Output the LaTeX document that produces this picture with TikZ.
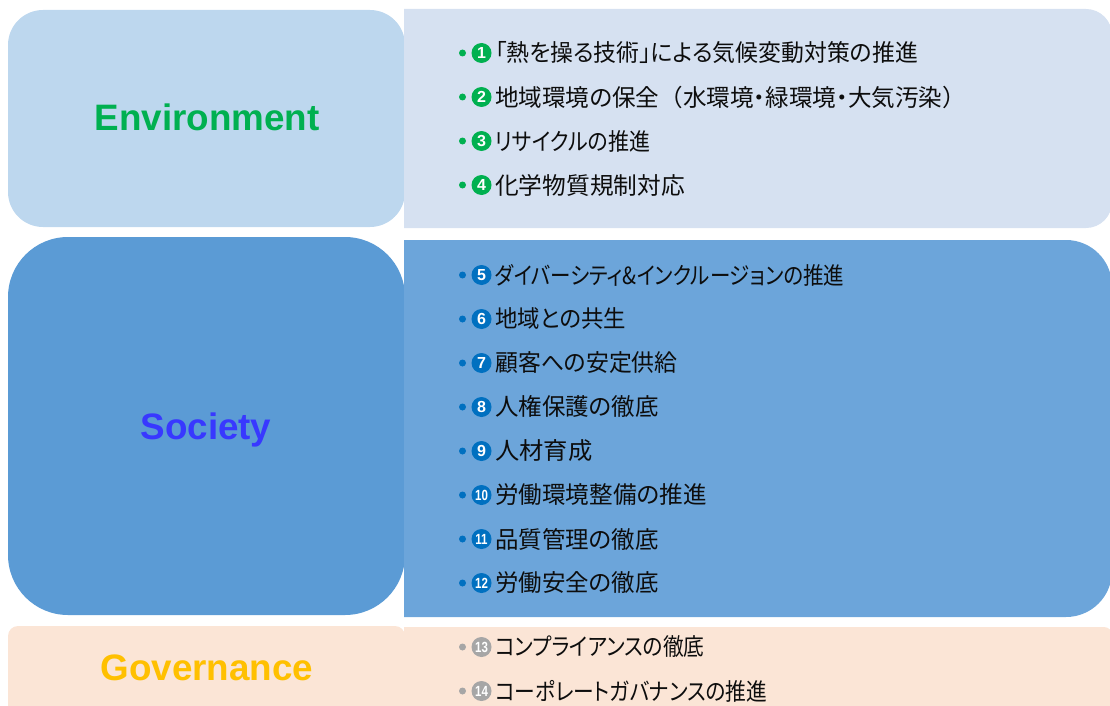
\documentclass[tikz,border=0pt]{standalone}
\usepackage{fontspec}
\newfontfamily\jpfont[RawFeature={+palt}]{Noto Sans CJK JP}
\newfontfamily\jpnp{Noto Sans CJK JP}
\newfontfamily\latfont{Liberation Sans}
\definecolor{envL}{HTML}{BDD7EE}
\definecolor{envR}{HTML}{D6E1F1}
\definecolor{socL}{HTML}{5B9BD5}
\definecolor{socR}{HTML}{6CA5DA}
\definecolor{govL}{HTML}{FBE5D6}
\definecolor{govR}{HTML}{FBE5D6}
\definecolor{envT}{HTML}{00B050}
\definecolor{socT}{HTML}{3838FF}
\definecolor{govT}{HTML}{FFC000}
\definecolor{envN}{HTML}{00B050}
\definecolor{socN}{HTML}{0070C0}
\definecolor{govN}{HTML}{A6A6A6}
\definecolor{txt}{HTML}{0D0D0D}
\tikzset{
  lbl/.style={anchor=base, inner sep=0pt, font=\latfont\bfseries\fontsize{36.8}{40}\selectfont},
  item/.style={anchor=west, inner sep=0pt, text=txt, font=\jpfont\fontsize{23.7}{26}\selectfont},
  dotb/.style={circle, fill=#1, minimum size=7pt, inner sep=0pt},
  numc/.style={circle, fill=#1, minimum size=20pt, inner sep=0pt, text=white, font=\latfont\bfseries\fontsize{16}{16}\selectfont},
}
\newcommand\dd[1]{\scalebox{0.72}[0.92]{#1}}
\newcommand\myitem[6]{%
  \node[dotb=#3] (d#1) at (462.5,#2) {};
  \node[numc=#3] (n#1) at (481.5,#2) {#4};
  \node[item] (t#1) at (495,#2) {\scalebox{#6}[1]{#5}};
}
\begin{document}
\begin{tikzpicture}[x=1pt,y=-1pt]
\useasboundingbox (0,0) rectangle (1110,706);
\clip (0,0) rectangle (1110,706);
% left boxes
\fill[envL, rounded corners=35pt] (8,10) rectangle (405,227);
\fill[socL, rounded corners=60pt] (8,237) rectangle (405,615);
\fill[govL, rounded corners=10pt] (8,626) rectangle (405,740);
% right panels
\begin{scope}
\clip (404,0) rectangle (1110,706);
\fill[envR, rounded corners=26pt] (340,9) rectangle (1112,228);
\fill[socR, rounded corners=46pt] (340,240) rectangle (1112,617);
\fill[govR, rounded corners=8pt] (340,627) rectangle (1112,760);
\end{scope}
% labels
\node[lbl, text=envT] (env) at (207,130) {Environment};
\node[lbl, text=socT] (soc) at (206,439) {Society};
\node[lbl, text=govT] (gov) at (207,680) {Governance};
% items
\myitem{1}{53}{envN}{1}{「熱を操る技術」による気候変動対策の推進}{0.965}
\myitem{2}{97}{envN}{2}{地域環境の保全{\jpnp （}水環境・緑環境・大気汚染{\jpnp ）}}{0.995}
\myitem{3}{141}{envN}{3}{リサイクルの推進}{0.885}
\myitem{4}{185}{envN}{4}{化学物質規制対応}{1.0}
\myitem{5}{275}{socN}{5}{ダイバーシティ\&インクルージョンの推進}{0.865}
\myitem{6}{319}{socN}{6}{地域との共生}{0.945}
\myitem{7}{363}{socN}{7}{顧客への安定供給}{0.965}
\myitem{8}{407}{socN}{8}{人権保護の徹底}{0.99}
\myitem{9}{451}{socN}{9}{人材育成}{1.025}
\myitem{10}{495}{socN}{\dd{10}}{労働環境整備の推進}{0.995}
\myitem{11}{539}{socN}{\dd{11}}{品質管理の徹底}{0.99}
\myitem{12}{583}{socN}{\dd{12}}{労働安全の徹底}{0.99}
\myitem{13}{647}{govN}{\dd{13}}{コンプライアンスの徹底}{0.875}
\myitem{14}{691}{govN}{\dd{14}}{コーポレートガバナンスの推進}{0.875}
\end{tikzpicture}
\end{document}
